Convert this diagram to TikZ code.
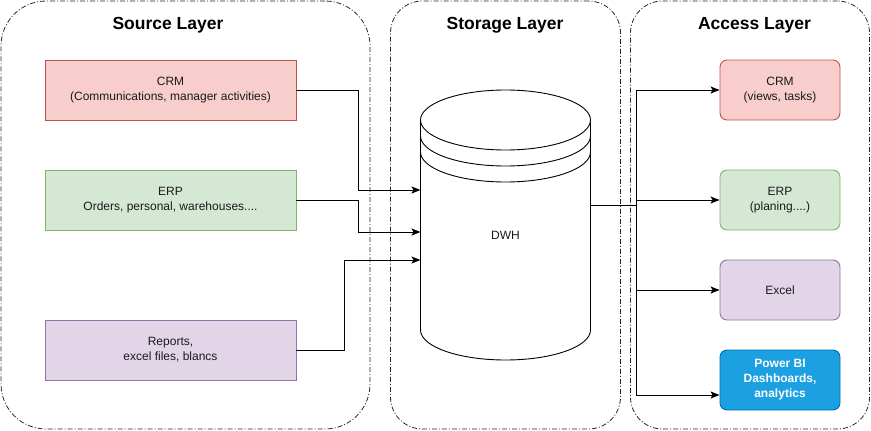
\documentclass[tikz,border=0pt]{standalone}
\usepackage{fontspec}
\setmainfont{Liberation Sans}
\usetikzlibrary{arrows.meta}
\definecolor{crmfill}{HTML}{F8CECC}\definecolor{crmdraw}{HTML}{B85450}
\definecolor{erpfill}{HTML}{D5E8D4}\definecolor{erpdraw}{HTML}{82B366}
\definecolor{repfill}{HTML}{E1D5E7}\definecolor{repdraw}{HTML}{9673A6}
\definecolor{pbifill}{HTML}{1BA1E2}\definecolor{pbidraw}{HTML}{006EAF}
\definecolor{txt}{HTML}{1A1A1A}
\tikzset{
  x=1pt,y=-1pt,
  container/.style={draw=black!85,line width=0.8pt,dash pattern=on 5pt off 2pt on 1pt off 2pt,inner sep=0pt},
  layertitle/.style={font=\fontsize{17.5}{20}\selectfont\bfseries,text=black,inner sep=0pt},
  srcbox/.style={draw,line width=0.9pt,minimum width=251,minimum height=60,inner sep=0pt,align=center,
     font=\fontsize{12}{15}\selectfont,text=txt},
  accbox/.style={srcbox,minimum width=120,rounded corners=7pt},
  arr/.style={draw=black,line width=1pt,-{Stealth[length=9pt,width=7pt,inset=2pt]}},
}
\begin{document}
\begin{tikzpicture}
\useasboundingbox (0,0) rectangle (871,431);
% containers
\node[container,minimum width=369,minimum height=428,rounded corners=45pt] (srcC) at (185.5,215) {};
\node[container,minimum width=230,minimum height=428,rounded corners=32pt] (stoC) at (505.5,215) {};
\node[container,minimum width=239,minimum height=428,rounded corners=32pt] (accC) at (750,215) {};
\node[layertitle] (srcT) at (168,25) {Source Layer};
\node[layertitle] (stoT) at (505,25) {Storage Layer};
\node[layertitle] (accT) at (754.5,25) {Access Layer};
% source boxes
\node[srcbox,fill=crmfill,draw=crmdraw] (crm) at (170.5,90) {CRM\\(Communications, manager activities)};
\node[srcbox,fill=erpfill,draw=erpdraw] (erp) at (170.5,200) {ERP\\Orders, personal, warehouses....};
\node[srcbox,fill=repfill,draw=repdraw] (rep) at (170.5,350) {Reports,\\excel files, blancs};
% cylinder
\node[minimum width=170,minimum height=270,inner sep=0pt] (dwh) at (505.5,225) {};
\draw[line width=0.9pt,fill=white] (420.5,120) -- (420.5,330) arc[start angle=180,end angle=360,x radius=85pt,y radius=30pt] -- (590.5,120);
\draw[line width=0.9pt,fill=white] (505.5,120) ellipse [x radius=85pt,y radius=30pt];
\draw[line width=0.9pt] (420.5,136) arc[start angle=180,end angle=360,x radius=85pt,y radius=30pt];
\draw[line width=0.9pt] (420.5,152) arc[start angle=180,end angle=360,x radius=85pt,y radius=30pt];
\node[font=\fontsize{12}{15}\selectfont,text=txt] (dwhT) at (505.5,235) {DWH};
\coordinate (in1) at (420.5,190);
\coordinate (in2) at (420.5,232);
\coordinate (in3) at (420.5,260);
\coordinate (out) at (590.5,205);
% access boxes
\node[accbox,fill=crmfill,draw=crmdraw] (acrm) at (780,90) {CRM\\(views, tasks)};
\node[accbox,fill=erpfill,draw=erpdraw] (aerp) at (780,200) {ERP\\(planing....)};
\node[accbox,fill=repfill,draw=repdraw] (axls) at (780,290) {Excel};
\node[accbox,fill=pbifill,draw=pbidraw,text=white,font=\fontsize{12}{15}\selectfont\bfseries] (apbi) at (780,380) {Power BI\\Dashboards,\\analytics};
% connectors
\draw[arr] (crm.east) -- ++(62,0) |- (in1);
\draw[arr] (erp.east) -- ++(62,0) |- (in2);
\draw[arr] (rep.east) -- ++(48,0) |- (in3);
\draw[arr] (out) -- ++(45.5,0) |- (acrm.west);
\draw[arr] (out) -- ++(45.5,0) |- (aerp.west);
\draw[arr] (out) -- ++(45.5,0) |- (axls.west);
\draw[arr] (out) -- ++(45.5,0) |- ([yshift=-15pt]apbi.west);
\end{tikzpicture}
\end{document}
